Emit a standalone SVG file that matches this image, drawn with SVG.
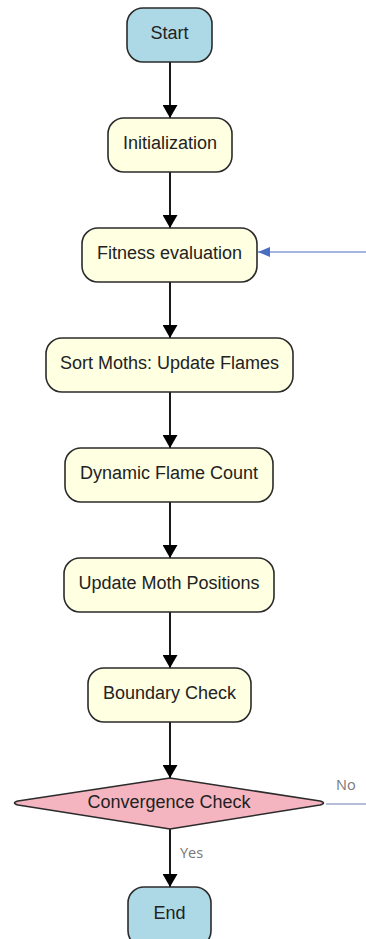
<svg xmlns="http://www.w3.org/2000/svg" width="366" height="939" viewBox="0 0 366 939">
<style>
.n{stroke:#2b2b2b;stroke-width:1.6}
.p{fill:#ffffe2}
.t{fill:#add8e6}
.d{fill:#f5b5c0}
.l{font-family:"Liberation Sans",Arial,sans-serif;font-size:18px;fill:#222;text-anchor:middle;dominant-baseline:central}
.g{font-family:"Open Sans","Liberation Sans",sans-serif;font-size:14.5px;fill:#777}
.c{stroke:#000;stroke-width:1.8;fill:none;marker-end:url(#a)}
</style>
<defs>
<marker id="a" markerWidth="13" markerHeight="15" refX="13" refY="7.5" orient="auto" markerUnits="userSpaceOnUse" viewBox="0 0 13 15">
<path d="M0,0 L13,7.5 L0,15 z" fill="#000"/>
</marker>
<marker id="b" markerWidth="12" markerHeight="10" refX="12" refY="5" orient="auto" markerUnits="userSpaceOnUse" viewBox="0 0 12 10">
<path d="M0,0 L12,5 L0,10 z" fill="#4a6fc1"/>
</marker>
</defs>
<g id="connectors">
<line class="c" x1="170" y1="62" x2="170" y2="118"/>
<line class="c" x1="170" y1="172" x2="170" y2="228"/>
<line class="c" x1="170" y1="282" x2="170" y2="338"/>
<line class="c" x1="170" y1="392" x2="170" y2="448"/>
<line class="c" x1="170" y1="502" x2="170" y2="558"/>
<line class="c" x1="170" y1="612" x2="170" y2="668"/>
<line class="c" x1="170" y1="722" x2="170" y2="778"/>
<line class="c" x1="170" y1="829" x2="170" y2="887"/>
<line x1="366" y1="252" x2="258" y2="252" stroke="#4a6fc1" stroke-width="1" marker-end="url(#b)"/>
<line x1="326" y1="804" x2="366" y2="804" stroke="#6a7fb0" stroke-width="1"/>
<text class="g" x="336" y="790">No</text>
<text class="g" x="180" y="858">Yes</text>
</g>
<g id="start"><rect class="n t" x="127" y="8" width="85" height="54" rx="16"/><text class="l" x="169.5" y="33">Start</text></g>
<g id="init"><rect class="n p" x="108" y="118" width="124" height="54" rx="16"/><text class="l" x="170" y="143">Initialization</text></g>
<g id="fitness"><rect class="n p" x="82" y="228" width="175" height="54" rx="16"/><text class="l" x="169.5" y="253">Fitness evaluation</text></g>
<g id="sort"><rect class="n p" x="46" y="338" width="247" height="54" rx="16"/><text class="l" x="169.5" y="363">Sort Moths: Update Flames</text></g>
<g id="dynamic"><rect class="n p" x="65" y="448" width="208" height="54" rx="16"/><text class="l" x="169" y="473">Dynamic Flame Count</text></g>
<g id="update"><rect class="n p" x="64" y="558" width="210" height="54" rx="16"/><text class="l" x="169" y="583">Update Moth Positions</text></g>
<g id="boundary"><rect class="n p" x="88" y="668" width="163" height="54" rx="16"/><text class="l" x="169.5" y="693">Boundary Check</text></g>
<g id="convergence"><path class="n d" d="M170,778 L320,801 Q327,803 320,805 L170,829 L18,805 Q11,803 18,801 Z" stroke-linejoin="round"/><text class="l" x="169" y="802">Convergence Check</text></g>
<g id="end"><rect class="n t" x="128" y="887" width="83" height="60" rx="16"/><text class="l" x="169.5" y="913">End</text></g>
</svg>
